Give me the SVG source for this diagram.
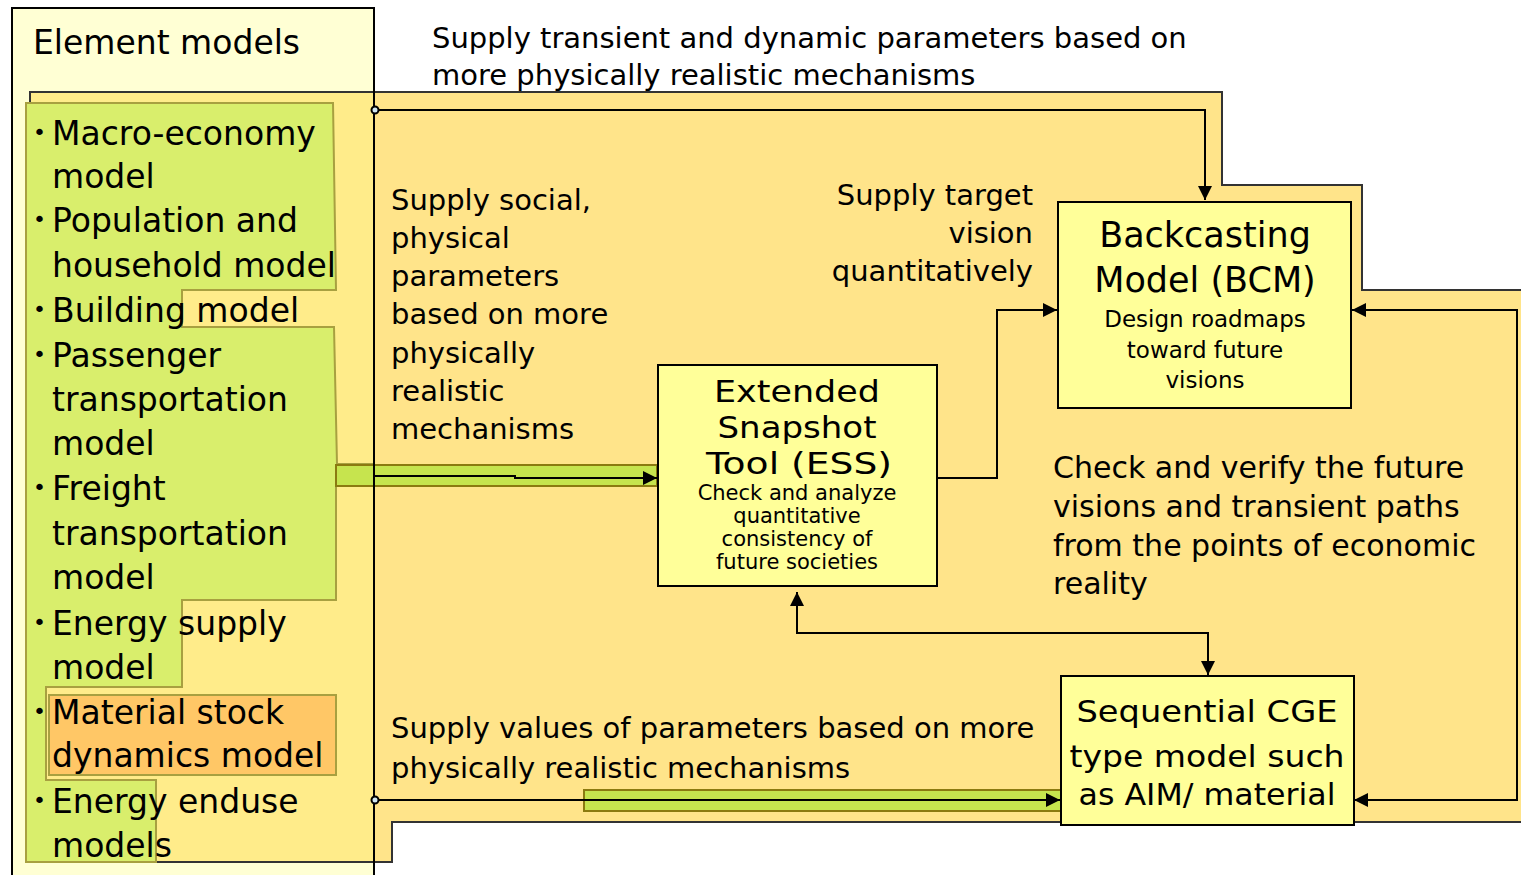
<svg xmlns="http://www.w3.org/2000/svg" width="1521" height="875" viewBox="0 0 1521 875">
<defs>
<style>
text{font-family:"DejaVu Sans",sans-serif;fill:#000}
.el{font-size:33px}
.bul{font-size:22px}
.mid{font-size:29px}
.chk{font-size:30px}
.big{font-size:31px;text-anchor:middle}
.big2{font-size:35px;text-anchor:middle}
.sm{font-size:21px;text-anchor:middle}
.sm2{font-size:23px;text-anchor:middle}
.cge{font-size:31px;text-anchor:middle}
.box{fill:#FFFF99;stroke:#000;stroke-width:2}
.ln{fill:none;stroke:#000;stroke-width:2}
.band{fill:#C6E44E;stroke:#8B7A10;stroke-width:2}
</style>
<marker id="ah" viewBox="0 0 10 10" refX="10" refY="5" markerWidth="16" markerHeight="14" markerUnits="userSpaceOnUse" orient="auto-start-reverse">
<path d="M0,0 L10,5 L0,10 z" fill="#000"/>
</marker>
</defs>

<g id="background">
<rect x="12" y="8" width="362" height="880" fill="#FFFFD4"/>
<polygon points="30,92 1222,92 1222,185 1362,185 1362,290 1523,290 1523,822 392,822 392,862 30,862" fill="#FFE48A" stroke="#333" stroke-width="2"/>
<rect x="31" y="93" width="343" height="768" fill="#FFEC8A"/>
<polygon points="26,103 333,103 336,290 182,290 182,327 334,327 337,464 374,464 374,486 336,486 336,600 182,600 182,687 46,687 46,780 156,780 156,862 26,862" fill="#D9EE6C" stroke="#A8A040" stroke-width="2"/>
</g>

<g id="element-models">
<rect x="49" y="695" width="287" height="80" fill="#FFC766" stroke="#A8A040" stroke-width="2"/>
<text class="el" x="33" y="54">Element models</text>
<g class="bullets">
<text class="bul" x="33" y="140">•</text>
<text class="bul" x="33" y="227">•</text>
<text class="bul" x="33" y="317">•</text>
<text class="bul" x="33" y="362">•</text>
<text class="bul" x="33" y="495">•</text>
<text class="bul" x="33" y="630">•</text>
<text class="bul" x="33" y="719">•</text>
<text class="bul" x="33" y="808">•</text>
</g>
<text class="el" x="52" y="145">Macro-economy</text>
<text class="el" x="52" y="188">model</text>
<text class="el" x="52" y="232">Population and</text>
<text class="el" x="52" y="277">household model</text>
<text class="el" x="52" y="322">Building model</text>
<text class="el" x="52" y="367">Passenger</text>
<text class="el" x="52" y="411">transportation</text>
<text class="el" x="52" y="455">model</text>
<text class="el" x="52" y="500">Freight</text>
<text class="el" x="52" y="545">transportation</text>
<text class="el" x="52" y="589">model</text>
<text class="el" x="52" y="635">Energy supply</text>
<text class="el" x="52" y="679">model</text>
<text class="el" x="52" y="724">Material stock</text>
<text class="el" x="52" y="767">dynamics model</text>
<text class="el" x="52" y="813">Energy enduse</text>
<text class="el" x="52" y="857">models</text>
</g>

<g id="bands">
<rect class="band" x="336" y="465" width="321" height="21"/>
<rect class="band" x="584" y="790" width="477" height="21"/>
</g>

<g id="element-border">
<rect x="12" y="8" width="362" height="880" fill="none" stroke="#000" stroke-width="2"/>
</g>

<g id="labels">
<text class="mid" x="432" y="48">Supply transient and dynamic parameters based on</text>
<text class="mid" x="432" y="85">more physically realistic mechanisms</text>
<text class="mid" x="391" y="210">Supply social,</text>
<text class="mid" x="391" y="248">physical</text>
<text class="mid" x="391" y="286">parameters</text>
<text class="mid" x="391" y="324">based on more</text>
<text class="mid" x="391" y="363">physically</text>
<text class="mid" x="391" y="401">realistic</text>
<text class="mid" x="391" y="439">mechanisms</text>
<text class="mid" x="1033" y="205" text-anchor="end">Supply target</text>
<text class="mid" x="1033" y="243" text-anchor="end">vision</text>
<text class="mid" x="1033" y="281" text-anchor="end">quantitatively</text>
<text class="chk" x="1053" y="478">Check and verify the future</text>
<text class="chk" x="1053" y="517">visions and transient paths</text>
<text class="chk" x="1053" y="556">from the points of economic</text>
<text class="chk" x="1053" y="594">reality</text>
<text class="mid" x="391" y="738">Supply values of parameters based on more</text>
<text class="mid" x="391" y="778">physically realistic mechanisms</text>
</g>

<g id="connectors">
<polyline class="ln" points="375,110 1205,110 1205,200" marker-end="url(#ah)"/>
<polyline class="ln" points="937,478 997,478 997,310 1057,310" marker-end="url(#ah)"/>
<polyline class="ln" points="1352,310 1517,310 1517,800 1354,800" marker-start="url(#ah)" marker-end="url(#ah)"/>
<polyline class="ln" points="797,592 797,633 1208,633 1208,675" marker-start="url(#ah)" marker-end="url(#ah)"/>
<polyline class="ln" points="374,476 515,476 515,478 657,478" marker-end="url(#ah)"/>
<polyline class="ln" points="375,800 1060,800" marker-end="url(#ah)"/>
<circle cx="375" cy="110" r="3.5" fill="#CFE6F0" stroke="#000" stroke-width="2"/>
<circle cx="375" cy="800" r="3.5" fill="#CFE6F0" stroke="#000" stroke-width="2"/>
</g>

<g id="ess">
<rect class="box" x="658" y="365" width="279" height="221"/>
<text class="big" x="797" y="402" textLength="166" lengthAdjust="spacingAndGlyphs">Extended</text>
<text class="big" x="797" y="438" textLength="159" lengthAdjust="spacingAndGlyphs">Snapshot</text>
<text class="big" x="799" y="474" textLength="186" lengthAdjust="spacingAndGlyphs">Tool (ESS)</text>
<text class="sm" x="797" y="500">Check and analyze</text>
<text class="sm" x="797" y="523">quantitative</text>
<text class="sm" x="797" y="546">consistency of</text>
<text class="sm" x="797" y="569">future societies</text>
</g>

<g id="bcm">
<rect class="box" x="1058" y="202" width="293" height="206"/>
<text class="big2" x="1205" y="247">Backcasting</text>
<text class="big2" x="1205" y="292">Model (BCM)</text>
<text class="sm2" x="1205" y="327">Design roadmaps</text>
<text class="sm2" x="1205" y="358">toward future</text>
<text class="sm2" x="1205" y="388">visions</text>
</g>

<g id="cge">
<rect class="box" x="1061" y="676" width="293" height="149"/>
<text class="cge" x="1207" y="722" textLength="261" lengthAdjust="spacingAndGlyphs">Sequential CGE</text>
<text class="cge" x="1207" y="767" textLength="275" lengthAdjust="spacingAndGlyphs">type model such</text>
<text class="cge" x="1207" y="805" textLength="257" lengthAdjust="spacingAndGlyphs">as AIM/ material</text>
</g>
</svg>
